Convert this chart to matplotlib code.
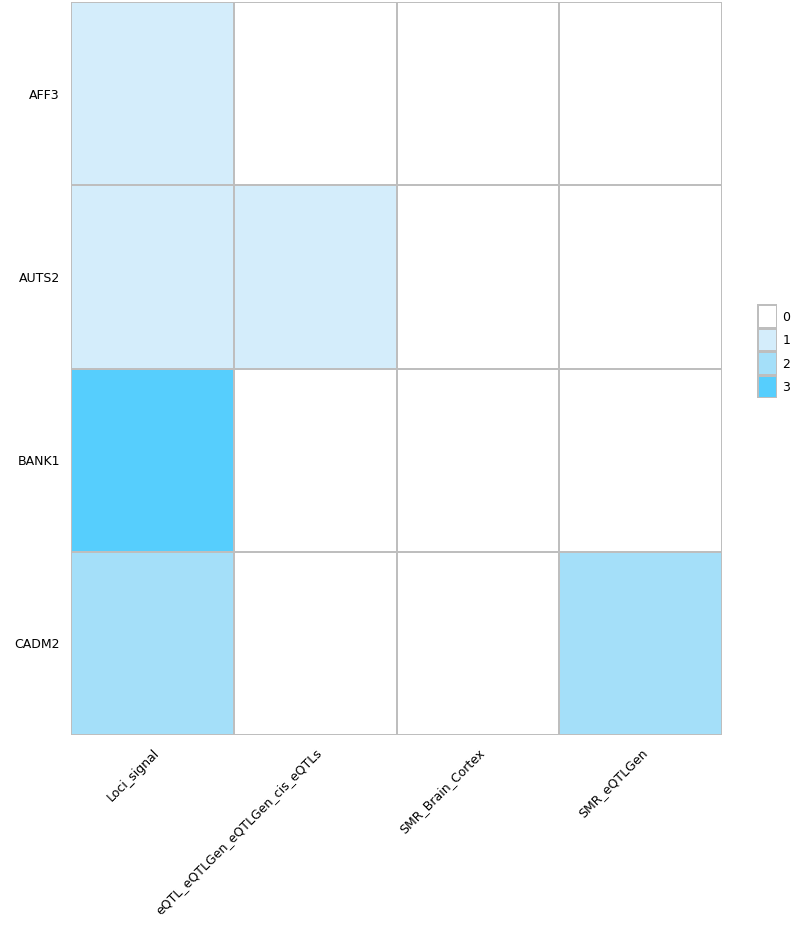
import numpy as np
import matplotlib.pyplot as plt
from matplotlib.colors import ListedColormap, BoundaryNorm

genes = ['AFF3', 'AUTS2', 'BANK1', 'CADM2']
sources = ['Loci_signal', 'eQTL_eQTLGen_eQTLGen_cis_eQTLs', 'SMR_Brain_Cortex', 'SMR_eQTLGen']
counts = [
    [1, 0, 0, 0],
    [1, 1, 0, 0],
    [3, 0, 0, 0],
    [2, 0, 0, 2],
]
levels = [0, 1, 2, 3]
level_colors = ['#FFFFFF', '#D4EDFB', '#A4DFF9', '#56CEFD']

cmap = ListedColormap(level_colors)
norm = BoundaryNorm(np.arange(-0.5, 4, 1), cmap.N)

fig = plt.figure(figsize=(7.96, 9.49), dpi=100)
ax = fig.add_axes([71 / 796, 1 - 735 / 949, (722 - 71) / 796, 733 / 949])
ax.pcolormesh(np.array(counts), cmap=cmap, norm=norm, edgecolor='#BEBEBE', linewidth=1.2)
ax.set_xlim(0, len(sources))
ax.set_ylim(len(genes), 0)
ax.set_xticks(np.arange(len(sources)) + 0.5)
ax.set_xticklabels(sources, rotation=45, ha='right', rotation_mode='anchor', fontsize=9)
ax.set_yticks(np.arange(len(genes)) + 0.5)
ax.set_yticklabels(genes, fontsize=9)
ax.tick_params(length=0, pad=8)
for s in ax.spines.values():
    s.set_visible(False)

# legend as small stacked boxes
lax = fig.add_axes([757 / 796, 1 - 398 / 949, 20 / 796, 94 / 949])
lax.pcolormesh(np.array(levels).reshape(-1, 1), cmap=cmap, norm=norm, edgecolor='#BEBEBE', linewidth=1)
lax.set_ylim(len(levels), 0)
lax.set_xticks([])
lax.yaxis.tick_right()
lax.set_yticks(np.arange(len(levels)) + 0.5)
lax.set_yticklabels([str(v) for v in levels], fontsize=9)
lax.tick_params(length=0, pad=4)
for s in lax.spines.values():
    s.set_visible(False)

fig.savefig('out.png', dpi=100)
